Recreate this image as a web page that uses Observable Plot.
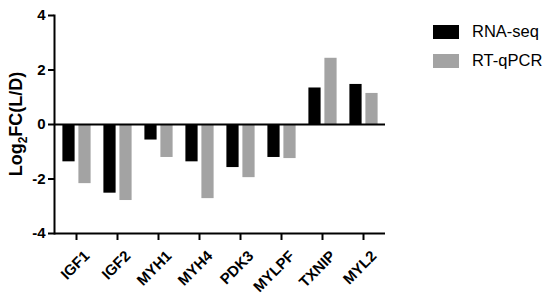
<!DOCTYPE html>
<html>
<head>
<meta charset="utf-8">
<script src="https://cdn.jsdelivr.net/npm/d3@7"></script>
<script src="https://cdn.jsdelivr.net/npm/@observablehq/plot@0.6"></script>
<style>
  html, body { margin: 0; padding: 0; background: #fff; }
  #wrap { position: relative; width: 550px; height: 303px; font-family: "Liberation Sans", Arial, sans-serif; }
  .leg { position: absolute; left: 433px; display: flex; align-items: center; font-size: 16.5px; color: #000; }
  .sw { width: 26px; height: 14px; margin-right: 13px; }
</style>
</head>
<body>
<div id="wrap"></div>
<script>
const genes = ["IGF1", "IGF2", "MYH1", "MYH4", "PDK3", "MYLPF", "TXNIP", "MYL2"];
const rnaSeq = [-1.37, -2.52, -0.57, -1.37, -1.58, -1.21, 1.34, 1.47];
const rtqPCR = [-2.17, -2.79, -1.21, -2.72, -1.95, -1.25, 2.43, 1.14];
const yTicks = [-4, -2, 0, 2, 4];
const seriesNames = ["RNA-seq", "RT-qPCR"];
const colors = ["#000000", "#a3a3a3"];

const rnaData = genes.map((g, i) => ({gene: g, value: rnaSeq[i]}));
const qpcrData = genes.map((g, i) => ({gene: g, value: rtqPCR[i]}));

const chart = Plot.plot({
  width: 550,
  height: 303,
  marginLeft: 54,
  marginRight: 165,
  marginTop: 15,
  marginBottom: 70,
  style: {fontFamily: "Liberation Sans, Arial, sans-serif", fontWeight: "bold", color: "#000", background: "#fff"},
  x: {domain: genes, range: [52, 387], padding: 0, label: null, axis: null},
  y: {domain: [-4, 4], label: null},
  marks: [
    Plot.barY(rnaData, {x: "gene", y: "value", fill: colors[0], insetLeft: 6.4, insetRight: 22.4}),
    Plot.barY(qpcrData, {x: "gene", y: "value", fill: colors[1], insetLeft: 22.4, insetRight: 6.4}),
    Plot.ruleY([0], {stroke: "#000", strokeWidth: 2}),
    Plot.ruleY([-4], {stroke: "#000", strokeWidth: 2}),
    Plot.frame({anchor: "left", stroke: "#000", strokeWidth: 2}),
    Plot.axisY({ticks: yTicks, tickSize: 6, tickPadding: 3, strokeWidth: 2, fontSize: 15, fontWeight: "bold", tickFormat: d => d < 0 ? "-" + Math.abs(d) : String(d), label: null})
  ]
});

const svg = d3.select(chart);
const xs = chart.scale("x");
const ys = chart.scale("y");
const bw = xs.bandwidth;
const yBase = ys.apply(-4);
const xAxisG = svg.append("g").attr("aria-label", "x-axis");
genes.forEach(g => {
  const cx = xs.apply(g) + bw / 2;
  xAxisG.append("line")
    .attr("x1", cx).attr("x2", cx)
    .attr("y1", yBase).attr("y2", yBase + 7)
    .attr("stroke", "#000").attr("stroke-width", 2);
  xAxisG.append("text")
    .attr("transform", `translate(${cx + 6},${yBase + 16}) rotate(-45)`)
    .attr("text-anchor", "end")
    .attr("dy", "0.75em")
    .attr("font-family", "Liberation Sans, Arial, sans-serif")
    .attr("font-weight", "bold")
    .attr("font-size", 15)
    .attr("fill", "#000")
    .text(g);
});

svg.append("text")
  .attr("transform", "translate(22,124) rotate(-90)")
  .attr("text-anchor", "middle")
  .attr("font-family", "Liberation Sans, Arial, sans-serif")
  .attr("font-weight", "bold")
  .attr("font-size", 18)
  .attr("fill", "#000")
  .call(t => {
    t.append("tspan").text("Log");
    t.append("tspan").attr("font-size", 12).attr("dy", 5).text("2");
    t.append("tspan").attr("dy", -5).text("FC(L/D)");
  });

const wrap = document.getElementById("wrap");
wrap.appendChild(chart);
seriesNames.forEach((name, i) => {
  const d = document.createElement("div");
  d.className = "leg";
  d.style.top = (22 + i * 29) + "px";
  const sw = document.createElement("div");
  sw.className = "sw";
  sw.style.background = colors[i];
  const tx = document.createElement("span");
  tx.textContent = name;
  d.appendChild(sw);
  d.appendChild(tx);
  wrap.appendChild(d);
});
</script>
</body>
</html>
